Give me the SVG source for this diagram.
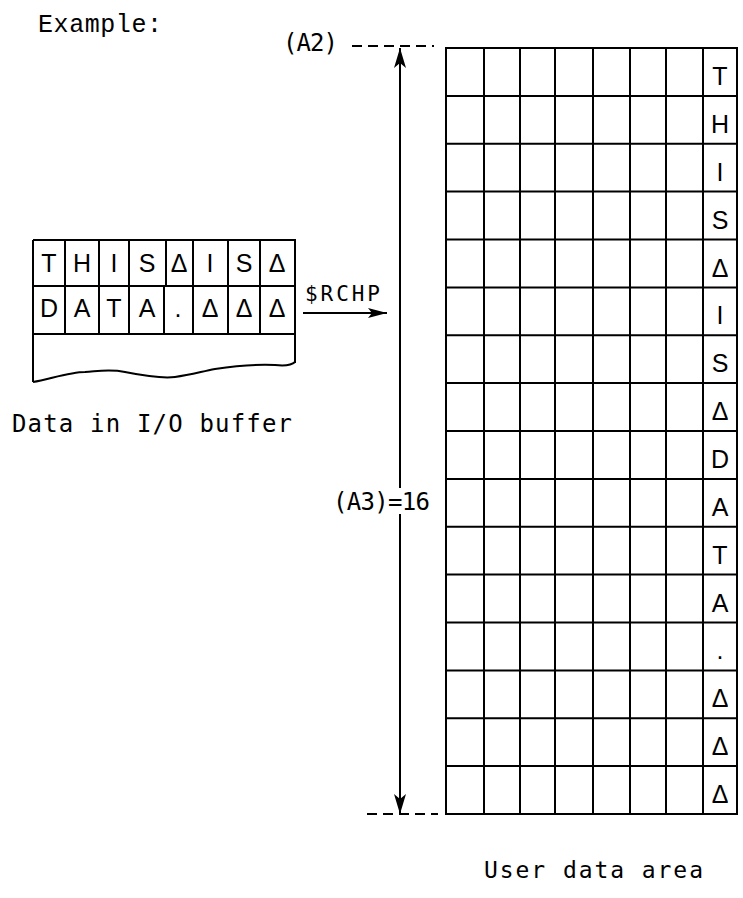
<svg xmlns="http://www.w3.org/2000/svg" width="743" height="898" viewBox="0 0 743 898">
<defs>
<style>
.ln{stroke:#000;stroke-width:2;fill:none}
.dash{stroke:#000;stroke-width:2;fill:none;stroke-dasharray:10 6}
.t{font-family:"DejaVu Sans Mono","Liberation Mono",monospace;fill:#000}
.c{font-family:"Liberation Sans",Arial,sans-serif;font-size:25px;fill:#000;text-anchor:middle}
.m{font-family:"Liberation Mono","Courier New",monospace;fill:#000}
</style>
<marker id="ah" markerWidth="20" markerHeight="12" refX="20" refY="6" orient="auto" markerUnits="userSpaceOnUse">
<path d="M0,0 L20,6 L0,12 L5,6 Z" fill="#000"/>
</marker>
<marker id="ah2" markerWidth="19" markerHeight="10" refX="19" refY="5" orient="auto" markerUnits="userSpaceOnUse">
<path d="M0,0 L19,5 L0,10 L4,5 Z" fill="#000"/>
</marker>
</defs>
<rect width="743" height="898" fill="#fff"/>

<text class="m" x="38" y="32" font-size="25" textLength="124">Example:</text>

<g id="buffer">
<path class="ln" d="M33,240 H295 V363 M33,240 V382 M33,286 H295 M33,334 H295"/>
<path class="ln" d="M33,382 C50,379 70,372 85,372 C100,371 110,369 125,372 C140,375 160,379 175,377 C190,375 200,372 215,369 C235,366 255,364 275,365 C285,366 292,365 295,362"/>
<path class="ln" d="M65,240 V334 M99,240 V334 M129,240 V334 M166,240 V286 M164,286 V334 M193,240 V334 M228,240 V334 M260,240 V334"/>
<g class="c">
<text x="49" y="272">T</text><text x="82" y="272">H</text><text x="114" y="272">I</text><text x="147" y="272">S</text>
<text x="179" y="272">Δ</text><text x="210" y="272">I</text><text x="244" y="272">S</text><text x="277" y="272">Δ</text>
<text x="49" y="317">D</text><text x="82" y="317">A</text><text x="114" y="317">T</text><text x="147" y="317">A</text>
<text x="178" y="317">.</text><text x="210" y="317">Δ</text><text x="244" y="317">Δ</text><text x="277" y="317">Δ</text>
</g>
<text class="t" x="12" y="432" font-size="24" textLength="280">Data in I/O buffer</text>
</g>

<g id="userarea">
<path class="ln" d="M446,48 H737 V814 H446 Z"/>
<path class="ln" d="M484,48 V814 M520,48 V814 M555,48 V814 M593,48 V814 M630,48 V814 M666,48 V814 M703,48 V814"/>
<path class="ln" d="M446,95.9 H737 M446,143.8 H737 M446,191.6 H737 M446,239.5 H737 M446,287.4 H737 M446,335.3 H737 M446,383.1 H737 M446,431 H737 M446,478.9 H737 M446,526.8 H737 M446,574.6 H737 M446,622.5 H737 M446,670.4 H737 M446,718.3 H737 M446,766.1 H737"/>
<g class="c" font-size="25">
<text x="720" y="85">T</text><text x="720" y="133">H</text><text x="720" y="181">I</text><text x="720" y="229">S</text>
<text x="720" y="277">Δ</text><text x="720" y="324">I</text><text x="720" y="372">S</text><text x="720" y="420">Δ</text>
<text x="720" y="468">D</text><text x="720" y="516">A</text><text x="720" y="564">T</text><text x="720" y="612">A</text>
<text x="720" y="659">.</text><text x="720" y="707">Δ</text><text x="720" y="755">Δ</text><text x="720" y="803">Δ</text>
</g>
<text class="t" x="484" y="878" font-size="23" textLength="219">User data area</text>
</g>

<g id="connectors">
<path class="dash" d="M352,46 H434"/>
<path class="dash" d="M367,814 H438"/>
<path class="ln" d="M400,488 V48" marker-end="url(#ah)"/>
<path class="ln" d="M400,514 V814" marker-end="url(#ah)"/>
<path class="ln" d="M303,313 H387" marker-end="url(#ah2)"/>
</g>
<text class="t" x="283" y="51" font-size="24" textLength="55">(A2)</text>
<text class="t" x="333" y="510" font-size="24" textLength="97">(A3)=16</text>
<text class="t" x="305" y="301" font-size="21" textLength="75">$RCHP</text>
</svg>
